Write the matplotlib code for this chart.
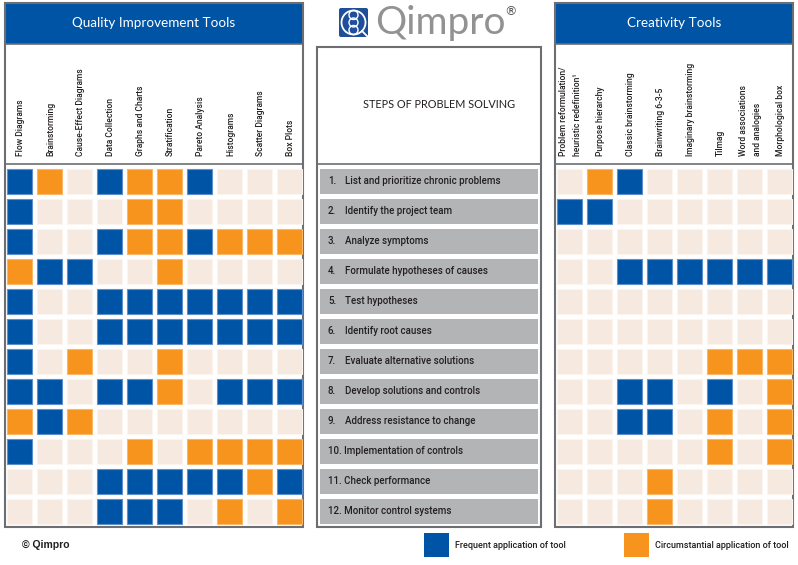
import matplotlib
matplotlib.use("Agg")
import matplotlib.pyplot as plt
from matplotlib.patches import Rectangle, FancyBboxPatch, Circle

# --- data -----------------------------------------------------------------
quality_tools = ["Flow Diagrams", "Brainstorming", "Cause-Effect Diagrams", "Data Collection",
                 "Graphs and Charts", "Stratification", "Pareto Analysis", "Histograms",
                 "Scatter Diagrams", "Box Plots"]

creativity_tools = ["Problem reformulation/\nheuristic redefinition\u00b9", "Purpose hierarchy",
                    "Classic brainstorming", "Brainwriting 6-3-5", "Imaginary brainstorming",
                    "Tilmag", "Word associations\nand analogies", "Morphological box"]

steps = ["List and prioritize chronic problems", "Identify the project team", "Analyze symptoms",
         "Formulate hypotheses of causes", "Test hypotheses", "Identify root causes",
         "Evaluate alternative solutions", "Develop solutions and controls",
         "Address resistance to change", "Implementation of controls", "Check performance",
         "Monitor control systems"]

# 2 = frequent application, 1 = circumstantial application, 0 = none
quality_matrix = [
    [2, 1, 0, 2, 1, 1, 2, 0, 0, 0],
    [2, 0, 0, 0, 1, 1, 0, 0, 0, 0],
    [2, 0, 0, 2, 1, 1, 2, 1, 1, 1],
    [1, 2, 2, 0, 0, 1, 0, 0, 0, 0],
    [2, 0, 0, 2, 2, 2, 2, 2, 2, 2],
    [2, 0, 0, 2, 2, 2, 2, 2, 2, 2],
    [2, 0, 1, 0, 0, 1, 0, 0, 0, 0],
    [2, 2, 0, 2, 2, 1, 0, 2, 2, 2],
    [1, 2, 1, 0, 0, 0, 0, 0, 0, 0],
    [2, 0, 0, 0, 1, 0, 1, 1, 1, 1],
    [0, 0, 0, 2, 2, 2, 2, 2, 1, 2],
    [0, 0, 0, 2, 2, 2, 0, 1, 0, 1],
]

creativity_matrix = [
    [0, 1, 2, 0, 0, 0, 0, 0],
    [2, 2, 0, 0, 0, 0, 0, 0],
    [0, 0, 0, 0, 0, 0, 0, 0],
    [0, 0, 2, 2, 2, 2, 2, 2],
    [0, 0, 0, 0, 0, 0, 0, 0],
    [0, 0, 0, 0, 0, 0, 0, 0],
    [0, 0, 0, 0, 0, 1, 1, 1],
    [0, 0, 2, 2, 0, 2, 0, 1],
    [0, 0, 2, 2, 0, 1, 0, 1],
    [0, 0, 0, 0, 0, 1, 0, 1],
    [0, 0, 0, 1, 0, 0, 0, 0],
    [0, 0, 0, 1, 0, 0, 0, 0],
]

legend_labels = ["Frequent application of tool", "Circumstantial application of tool"]

# --- style ----------------------------------------------------------------
BLUE = "#0054a6"
ORANGE = "#f7941e"
LIGHT = "#f6e9df"
GRAY_BAR = "#b3b4b6"
BORDER = "#6d6e71"
TEXT = "#231f20"
fill = {2: BLUE, 1: ORANGE, 0: LIGHT}
edge = {2: "#5f8fcb", 1: "#fbb765", 0: "#fbf4ef"}

NARROW = ["Roboto", "DejaVu Sans"]
HEAD = ["Lato", "DejaVu Sans"]
WEIGHT = "medium"

ROW0, PITCH, CELL = 169, 30, 25

fig = plt.figure(figsize=(7.98, 5.65), dpi=100)
ax = fig.add_axes([0, 0, 1, 1])
ax.set_xlim(0, 798)
ax.set_ylim(565, 0)
ax.axis("off")


def panel(x0, x1, title=None):
    top = 3 if title else 47
    if title:
        ax.add_patch(Rectangle((x0, 3), x1 - x0, 41, facecolor=BLUE, edgecolor="none"))
        ax.text((x0 + x1) / 2, 23, title, color="white", fontsize=9.7,
                family=HEAD, ha="center", va="center")
        ax.plot([x0, x1], [44, 44], color=BORDER, lw=1.2)
    ax.add_patch(Rectangle((x0, top), x1 - x0, 527 - top, facecolor="none",
                           edgecolor=BORDER, lw=1.5))
    ax.plot([x0, x1], [164, 164], color=BORDER, lw=1.2)


def grid(x_start, matrix, labels):
    for j, lab in enumerate(labels):
        ax.text(x_start + j * PITCH + CELL / 2 + 1, 156, lab, rotation=90, fontsize=6.15,
                family=NARROW, fontweight=WEIGHT, color=TEXT, ha="center", va="bottom",
                multialignment="left", linespacing=1.7)
    for i, row in enumerate(matrix):
        for j, v in enumerate(row):
            ax.add_patch(Rectangle((x_start + j * PITCH, ROW0 + i * PITCH), CELL, CELL,
                                   facecolor=fill[v], edgecolor=edge[v], lw=0.8))


# left panel
panel(5, 303, "Quality Improvement Tools")
grid(7, quality_matrix, quality_tools)

# right panel
panel(555, 793, "Creativity Tools")
grid(557, creativity_matrix, creativity_tools)

# middle panel
panel(317, 541)
ax.text(439, 104, "STEPS OF PROBLEM SOLVING", fontsize=7.8, family=HEAD,
        color=TEXT, ha="center", va="center")
for i, s in enumerate(steps):
    y = ROW0 + i * PITCH
    ax.add_patch(Rectangle((320, y), 218, CELL, facecolor=GRAY_BAR, edgecolor="none"))
    n = i + 1
    if n < 10:
        ax.text(328, y + CELL / 2, f"{n}.", fontsize=7.0, family=NARROW, fontweight=WEIGHT,
                color=TEXT, va="center")
        ax.text(345, y + CELL / 2, s, fontsize=7.0, family=NARROW, fontweight=WEIGHT,
                color=TEXT, va="center")
    else:
        ax.text(328, y + CELL / 2, f"{n}. {s}", fontsize=7.0, family=NARROW,
                fontweight=WEIGHT, color=TEXT, va="center")

# logo
ax.add_patch(FancyBboxPatch((339, 8), 29, 29, boxstyle="round,pad=0,rounding_size=2",
                            facecolor="#1f4f9a", edgecolor="none"))
ax.add_patch(Circle((353.5, 22.5), 12, facecolor="none", edgecolor="white", lw=1.3))
for cy in (15, 22.5, 30):
    ax.add_patch(Circle((353.5, cy), 4.5, facecolor="none", edgecolor="white", lw=1.0))
ax.plot([362, 368], [31, 37], color="white", lw=1.3)
ax.text(375, 23, "Qimpro", fontsize=28, family=HEAD,
        color="#929292", va="center", ha="left")
ax.text(504, 12, "\u00ae", fontsize=9, family="DejaVu Sans", color="#555555",
        va="center", ha="left")

# footer
ax.text(22, 545, "\u00a9 Qimpro", fontsize=7.5, family=["Liberation Sans", "DejaVu Sans"],
        fontweight="bold", color=TEXT, va="center")
for k, (xs, lab) in enumerate(zip([424, 624], legend_labels)):
    ax.add_patch(Rectangle((xs, 533), 25, 24, facecolor=[BLUE, ORANGE][k], edgecolor="none"))
    ax.text(xs + 31, 545, lab, fontsize=6.5, family=NARROW, fontweight=WEIGHT,
            color=TEXT, va="center")

fig.savefig("out.png", dpi=100)
